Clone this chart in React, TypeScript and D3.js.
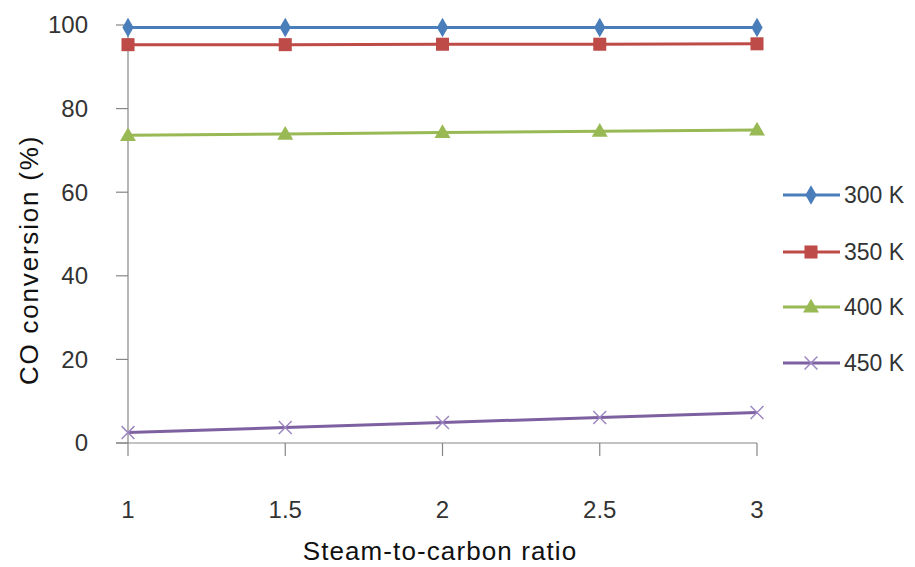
import { useRef, useEffect } from 'react';
import * as d3 from 'd3';

const ratios = [1, 1.5, 2, 2.5, 3];
const yTicks = [0, 20, 40, 60, 80, 100];
const seriesNames = ['300 K', '350 K', '400 K', '450 K'];
const conv300 = [99.4, 99.4, 99.4, 99.4, 99.4];
const conv350 = [95.3, 95.3, 95.4, 95.4, 95.5];
const conv400 = [73.6, 73.9, 74.3, 74.6, 74.9];
const conv450 = [2.5, 3.7, 4.9, 6.1, 7.3];
const colors = ['#4A7EBB', '#BE4B48', '#98B954', '#7D60A0'];
const markers = ['diamond', 'square', 'triangle', 'cross'];

const W = 915;
const H = 567;
const FONT = "'Liberation Sans', Arial, sans-serif";

export default function App() {
  const svgRef = useRef<SVGSVGElement>(null);

  useEffect(() => {
    if (!svgRef.current) return;
    const svg = d3.select(svgRef.current);
    svg.selectAll('*').remove();

    const x = d3.scaleLinear().domain([1, 3]).range([128, 757]);
    const y = d3.scaleLinear().domain([0, 100]).range([443, 25]);

    const allSeries = [conv300, conv350, conv400, conv450];

    // axes
    const axisColor = '#868686';
    const g = svg.append('g');

    g.append('line')
      .attr('x1', x(1)).attr('x2', x(1))
      .attr('y1', y(100)).attr('y2', y(0))
      .attr('stroke', axisColor).attr('stroke-width', 1.2);
    g.append('line')
      .attr('x1', x(1) - 12).attr('x2', x(3))
      .attr('y1', y(0)).attr('y2', y(0))
      .attr('stroke', axisColor).attr('stroke-width', 1.2);

    g.selectAll('.ytick')
      .data(yTicks)
      .join('line')
      .attr('x1', x(1) - 12).attr('x2', x(1))
      .attr('y1', (d) => y(d)).attr('y2', (d) => y(d))
      .attr('stroke', axisColor).attr('stroke-width', 1.2);

    g.selectAll('.xtick')
      .data(ratios)
      .join('line')
      .attr('x1', (d) => x(d)).attr('x2', (d) => x(d))
      .attr('y1', y(0)).attr('y2', y(0) + 13)
      .attr('stroke', axisColor).attr('stroke-width', 1.2);

    g.selectAll('.ylab')
      .data(yTicks)
      .join('text')
      .attr('x', 88)
      .attr('y', (d) => y(d))
      .attr('dy', '0.35em')
      .attr('text-anchor', 'end')
      .attr('font-family', FONT)
      .attr('font-size', 24)
      .attr('fill', '#333')
      .text((d) => d);

    g.selectAll('.xlab')
      .data(ratios)
      .join('text')
      .attr('x', (d) => x(d))
      .attr('y', 510)
      .attr('dy', '0.35em')
      .attr('text-anchor', 'middle')
      .attr('font-family', FONT)
      .attr('font-size', 24)
      .attr('fill', '#333')
      .text((d) => d);

    g.append('text')
      .attr('x', 440)
      .attr('y', 551)
      .attr('dy', '0.35em')
      .attr('text-anchor', 'middle')
      .attr('font-family', FONT)
      .attr('font-size', 26)
      .attr('letter-spacing', 1.1)
      .attr('fill', '#111')
      .text('Steam-to-carbon  ratio');

    g.append('text')
      .attr('transform', 'translate(29,260) rotate(-90)')
      .attr('dy', '0.35em')
      .attr('text-anchor', 'middle')
      .attr('font-family', FONT)
      .attr('font-size', 26)
      .attr('letter-spacing', 1.8)
      .attr('fill', '#111')
      .text('CO conversion  (%)');

    const symbolFor = (m: string) => {
      if (m === 'diamond') return d3.symbol(d3.symbolDiamond, 110)();
      if (m === 'square') return d3.symbol(d3.symbolSquare, 170)();
      if (m === 'triangle') return d3.symbol(d3.symbolTriangle, 110)();
      return d3.symbol(d3.symbolTimes, 110)();
    };

    const line = d3
      .line<number>()
      .x((_, i) => x(ratios[i]))
      .y((d) => y(d));

    allSeries.forEach((vals, si) => {
      const sg = svg.append('g');
      sg.append('path')
        .datum(vals)
        .attr('fill', 'none')
        .attr('stroke', colors[si])
        .attr('stroke-width', 3)
        .attr('d', line);
      const isCross = markers[si] === 'cross';
      sg.selectAll('path.m')
        .data(vals)
        .join('path')
        .attr('class', 'm')
        .attr('transform', (d, i) => `translate(${x(ratios[i])},${y(d) + (markers[si] === 'triangle' ? 1 : 0)})`)
        .attr('d', symbolFor(markers[si]))
        .attr('fill', isCross ? 'none' : colors[si])
        .attr('stroke', isCross ? '#9D87C0' : 'none')
        .attr('stroke-width', isCross ? 1.5 : 0);
    });

    // legend
    const legendY = [195, 252, 307, 363];
    seriesNames.forEach((name, si) => {
      const lg = svg.append('g').attr('transform', `translate(0,${legendY[si]})`);
      lg.append('line')
        .attr('x1', 783).attr('x2', 840)
        .attr('y1', 0).attr('y2', 0)
        .attr('stroke', colors[si]).attr('stroke-width', 3);
      const isCross = markers[si] === 'cross';
      lg.append('path')
        .attr('transform', `translate(811,${markers[si] === 'triangle' ? 1 : 0})`)
        .attr('d', symbolFor(markers[si]))
        .attr('fill', isCross ? 'none' : colors[si])
        .attr('stroke', isCross ? '#9D87C0' : 'none')
        .attr('stroke-width', isCross ? 1.5 : 0);
      lg.append('text')
        .attr('x', 844)
        .attr('y', 0)
        .attr('dy', '0.35em')
        .attr('font-family', FONT)
        .attr('font-size', 23)
        .attr('fill', '#333')
        .text(name);
    });
  }, []);

  return (
    <div style={{ position: 'absolute', left: 0, top: 0 }}>
      <svg ref={svgRef} width={W} height={H} style={{ display: 'block', background: '#fff' }} />
    </div>
  );
}
